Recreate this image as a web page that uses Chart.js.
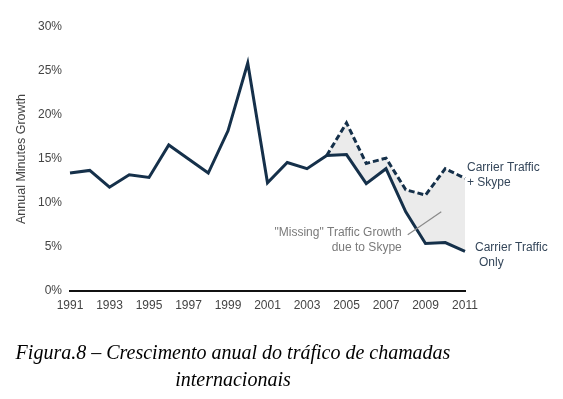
<!DOCTYPE html>
<html>
<head>
<meta charset="utf-8">
<script src="https://cdn.jsdelivr.net/npm/chart.js@4"></script>
<style>
  html, body { margin: 0; padding: 0; background: #ffffff; }
  #wrap { position: relative; width: 563px; height: 399px; }
  #c { position: absolute; left: 0; top: 0; }
  #caption {
    position: absolute; left: 13px; width: 440px; top: 339px;
    font-family: "Liberation Serif", "DejaVu Serif", serif; font-style: italic;
    font-size: 20px; line-height: 27px; color: #000; text-align: center;
  }
</style>
</head>
<body>
<div id="wrap">
  <canvas id="c" width="563" height="399"></canvas>
  <div id="caption">Figura.8 – Crescimento anual do tráfico de chamadas<br>internacionais</div>
</div>
<script>
const years = ["1991","1992","1993","1994","1995","1996","1997","1998","1999","2000","2001","2002","2003","2004","2005","2006","2007","2008","2009","2010","2011"];
const carrierOnly = [13.4, 13.7, 11.8, 13.2, 12.9, 16.6, 15.0, 13.4, 18.2, 25.9, 12.3, 14.6, 13.9, 15.4, 15.5, 12.2, 13.9, 9.0, 5.4, 5.5, 4.5];
const carrierSkype = [null, null, null, null, null, null, null, null, null, null, null, null, null, 15.4, 19.1, 14.5, 15.1, 11.5, 10.9, 13.9, 12.8];
const yTicks = [0, 5, 10, 15, 20, 25, 30];
const seriesLabels = ["Carrier Traffic Only", "Carrier Traffic + Skype"];

const navy = '#15304a';

const annotPlugin = {
  id: 'annot',
  afterDatasetsDraw(chart) {
    const ctx = chart.ctx;
    const xs = chart.scales.x, ys = chart.scales.y;
    const last = years.length - 1;
    ctx.save();
    ctx.font = '12px "Liberation Sans", Arial, sans-serif';
    ctx.textBaseline = 'middle';
    ctx.fillStyle = '#34465a';
    ctx.textAlign = 'left';
    const xr = xs.getPixelForValue(last);
    const ySk = ys.getPixelForValue(carrierSkype[last]);
    ctx.fillText('Carrier Traffic', xr + 2, ySk - 11);
    ctx.fillText('+ Skype', xr + 2, ySk + 4);
    const yOn = ys.getPixelForValue(carrierOnly[last]);
    ctx.fillText('Carrier Traffic', xr + 10, yOn - 4);
    ctx.fillText('Only', xr + 14, yOn + 11);
    const ax0 = xs.getPixelForValue(17.1), ay0 = ys.getPixelForValue(6.4);
    const ax1 = xs.getPixelForValue(18.8), ay1 = ys.getPixelForValue(9.0);
    ctx.strokeStyle = '#8a8a8a';
    ctx.lineWidth = 1.2;
    ctx.beginPath(); ctx.moveTo(ax0, ay0); ctx.lineTo(ax1, ay1); ctx.stroke();
    ctx.fillStyle = '#7a7a7a';
    ctx.textAlign = 'right';
    ctx.fillText('"Missing" Traffic Growth', ax0 - 6, ay0 - 2);
    ctx.fillText('due to Skype', ax0 - 6, ay0 + 13);
    ctx.restore();
  }
};

new Chart(document.getElementById('c'), {
  type: 'line',
  data: {
    labels: years,
    datasets: [
      {
        label: seriesLabels[0],
        data: carrierOnly,
        borderColor: navy,
        borderWidth: 3,
        pointRadius: 0,
        tension: 0,
        fill: false,
        borderJoinStyle: 'miter'
      },
      {
        label: seriesLabels[1],
        data: carrierSkype,
        borderColor: navy,
        borderWidth: 3,
        borderDash: [6, 3],
        pointRadius: 0,
        tension: 0,
        fill: { target: 0 },
        backgroundColor: '#ebebeb',
        borderJoinStyle: 'miter'
      }
    ]
  },
  options: {
    responsive: false,
    animation: false,
    events: [],
    layout: { padding: { left: 0, right: 98, top: 27, bottom: 88 } },
    plugins: { legend: { display: false }, tooltip: { enabled: false } },
    scales: {
      x: {
        offset: false,
        grid: { display: false, drawTicks: false },
        border: { display: true, color: '#111111', width: 2 },
        ticks: {
          color: '#444',
          font: { family: '"Liberation Sans", Arial, sans-serif', size: 12 },
          padding: 7,
          autoSkip: false,
          maxRotation: 0,
          callback: (v, i) => (i % 2 === 0 ? years[i] : '')
        },
        afterFit: (s) => { s.height = 20; }
      },
      y: {
        min: 0, max: 30,
        grid: { display: false, drawTicks: false },
        border: { display: false },
        afterBuildTicks: (s) => { s.ticks = yTicks.map(v => ({ value: v })); },
        ticks: {
          color: '#444',
          font: { family: '"Liberation Sans", Arial, sans-serif', size: 12 },
          padding: 8,
          callback: (v) => v + '%'
        },
        title: {
          display: true,
          text: 'Annual Minutes Growth',
          color: '#444',
          font: { family: '"Liberation Sans", Arial, sans-serif', size: 12.5 },
          padding: { top: 14, bottom: 0 }
        },
        afterFit: (s) => { s.width = 70; }
      }
    }
  },
  plugins: [annotPlugin]
});
</script>
</body>
</html>
